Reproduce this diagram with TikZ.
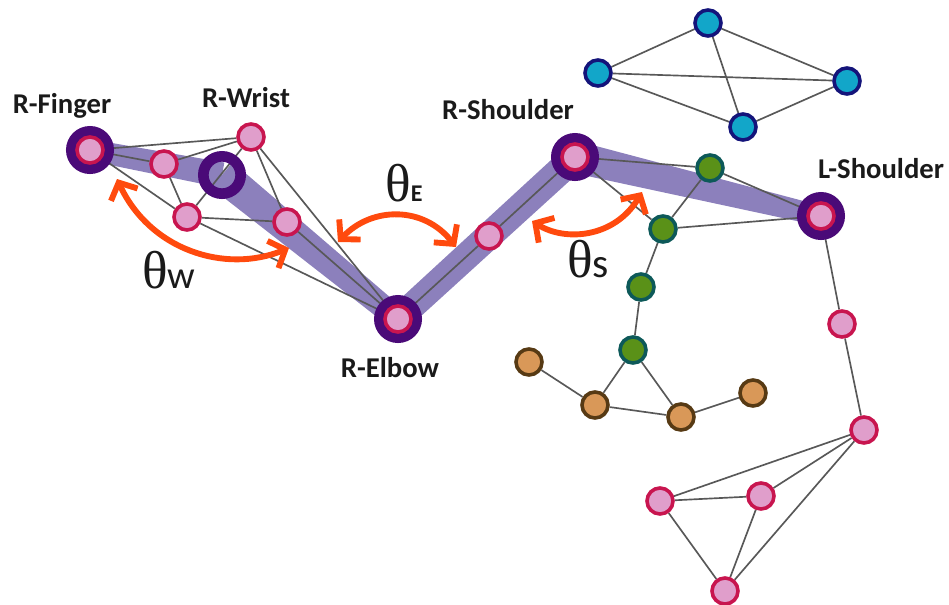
\documentclass[tikz,border=0pt]{standalone}
\usepackage{fontspec}
\setmainfont{Carlito}
\newfontfamily\thetafont{Liberation Serif}
\usetikzlibrary{arrows.meta,calc}

\definecolor{bandc}{HTML}{8C80BC}
\definecolor{ringc}{HTML}{4A0A78}
\definecolor{pinkf}{HTML}{E09ECB}
\definecolor{pinkd}{HTML}{C8154F}
\definecolor{greenf}{HTML}{5A9118}
\definecolor{greend}{HTML}{0D5959}
\definecolor{cyanf}{HTML}{12A6C9}
\definecolor{cyand}{HTML}{14147A}
\definecolor{orangef}{HTML}{D99858}
\definecolor{oranged}{HTML}{573A14}
\definecolor{edgec}{HTML}{585858}
\definecolor{arrowc}{HTML}{FF4A0E}
\definecolor{labelc}{HTML}{1A1A1A}

\pgfdeclarelayer{bandlayer}
\pgfdeclarelayer{edgelayer}
\pgfsetlayers{bandlayer,edgelayer,main}

\tikzset{
  joint/.style={circle, inner sep=0pt, minimum size=19.5pt, line width=2.7pt},
  pinkjoint/.style={joint, fill=pinkf, draw=pinkd},
  greenjoint/.style={joint, fill=greenf, draw=greend},
  cyanjoint/.style={joint, fill=cyanf, draw=cyand},
  orangejoint/.style={joint, fill=orangef, draw=oranged},
  keyring/.style={circle, inner sep=0pt, minimum size=28pt, draw=ringc, line width=8pt},
  bone/.style={draw=edgec, line width=1.25pt},
  limb/.style={fill=bandc},
  anglearrow/.style={draw=arrowc, line width=4.4pt,
    {Straight Barb[length=10pt, width=22pt, line width=4.4pt]}-{Straight Barb[length=10pt, width=22pt, line width=4.4pt]}},
  partname/.style={font=\fontsize{21.5}{24}\selectfont\bfseries, text=labelc, anchor=base, inner sep=0pt},
  anglename/.style={text=labelc, anchor=base west, inner sep=0pt}
}

% tapered limb between two joints: #1, #2 joint names, #3, #4 half widths
\newcommand\limbpiece[4]{%
  \fill[limb] ($(#1.center)!#3!90:(#2.center)$) -- ($(#2.center)!#4!-90:(#1.center)$)
    -- ($(#2.center)!#4!90:(#1.center)$) -- ($(#1.center)!#3!-90:(#2.center)$) -- cycle;}

\begin{document}
\begin{tikzpicture}[x=0.75pt, y=-0.75pt]
\useasboundingbox (0,0) rectangle (949,604);

% key joints: dark ring with a pink joint inside (the wrist ring is empty)
\node[keyring] (fingerk) at (90,150) {};
\node[keyring] (wristk) at (222,175) {};
\node[keyring] (elbowk) at (398,319) {};
\node[keyring] (rshk) at (575,157) {};
\node[keyring] (lshk) at (821,216) {};
\node[pinkjoint] (finger) at (fingerk) {};
\node[pinkjoint] (elbow) at (elbowk) {};
\node[pinkjoint] (rsh) at (rshk) {};
\node[pinkjoint] (lsh) at (lshk) {};

% right hand and arm
\node[pinkjoint] (h1) at (164,164) {};
\node[pinkjoint] (top) at (251,137) {};
\node[pinkjoint] (h3) at (187,217) {};
\node[pinkjoint] (h4) at (287,222) {};
\node[pinkjoint] (ua) at (489,236) {};

% torso
\node[greenjoint] (g1) at (710,168) {};
\node[greenjoint] (g2) at (663,229) {};
\node[greenjoint] (g3) at (641,287) {};
\node[greenjoint] (g4) at (633,350) {};

% head
\node[cyanjoint] (c1) at (708,23) {};
\node[cyanjoint] (c2) at (598,73) {};
\node[cyanjoint] (c3) at (847,81) {};
\node[cyanjoint] (c4) at (743,127) {};

% legs
\node[orangejoint] (o1) at (529,362) {};
\node[orangejoint] (o2) at (595,405) {};
\node[orangejoint] (o3) at (681,417) {};
\node[orangejoint] (o4) at (753,393) {};

% left arm and hand
\node[pinkjoint] (la1) at (842,324) {};
\node[pinkjoint] (la2) at (864,430) {};
\node[pinkjoint] (lh1) at (660,501) {};
\node[pinkjoint] (lh2) at (761,496) {};
\node[pinkjoint] (lh3) at (725,591) {};

% highlighted limb chain
\begin{pgfonlayer}{bandlayer}
\limbpiece{fingerk}{wristk}{8pt}{9.5pt}
\limbpiece{wristk}{elbowk}{12.5pt}{8.5pt}
\limbpiece{elbowk}{rshk}{10pt}{10.5pt}
\limbpiece{rshk}{lshk}{12pt}{7.5pt}
\end{pgfonlayer}

% skeleton edges
\begin{pgfonlayer}{edgelayer}
\path[bone]
  (finger) -- (h1)  (finger) -- (top)  (finger) -- (h3)
  (h1) -- (top)  (h1) -- (h3)  (h3) -- (top)  (h3) -- (h4)
  (h3) -- (elbow)  (top) -- (h4)  (top) -- (elbow)  (h4) -- (elbow)
  (elbow) -- (ua)  (ua) -- (rsh)
  (rsh) -- (g1)  (rsh) -- (g2)  (g1) -- (g2)  (g1) -- (lsh)  (g2) -- (lsh)
  (g2) -- (g3)  (g3) -- (g4)  (g4) -- (o2)  (g4) -- (o3)
  (o1) -- (o2)  (o2) -- (o3)  (o3) -- (o4)
  (c1) -- (c2)  (c1) -- (c3)  (c1) -- (c4)  (c2) -- (c3)  (c2) -- (c4)  (c3) -- (c4)
  (lsh) -- (la1)  (la1) -- (la2)
  (la2) -- (lh1)  (la2) -- (lh2)  (la2) -- (lh3)
  (lh1) -- (lh2)  (lh1) -- (lh3)  (lh2) -- (lh3);
\end{pgfonlayer}

% angle arrows
\coordinate (wa) at (117,179);
\coordinate (wb) at (289,248);
\coordinate (ea) at (338,242);
\coordinate (eb) at (456,247);
\coordinate (sa) at (532,221);
\coordinate (sb) at (642,192);
\draw[anglearrow] (wa) .. controls (150,250) and (225,274) .. (wb);
\draw[anglearrow] (ea) .. controls (372,206) and (424,206) .. (eb);
\draw[anglearrow] (sa) .. controls (565,242) and (615,238) .. (sb);

% part names
\node[partname] (lf) at (62,113) {R-Finger};
\node[partname] (lw) at (246,107) {R-Wrist};
\node[partname] (lrs) at (508,119) {R-Shoulder};
\node[partname] (lls) at (881,178) {L-Shoulder};
\node[partname] (le) at (390,377) {R-Elbow};

% angle names
\node[anglename] (tw) at (142,288) {\thetafont\fontsize{40}{42}\selectfont θ\normalfont\fontsize{29}{31}\selectfont w};
\node[anglename] (te) at (385,201) {\thetafont\fontsize{40}{42}\selectfont θ\normalfont\fontsize{18}{20}\selectfont\bfseries E};
\node[anglename] (ts) at (567,277) {\thetafont\fontsize{40}{42}\selectfont θ\normalfont\fontsize{31}{33}\selectfont s};
\end{tikzpicture}
\end{document}
